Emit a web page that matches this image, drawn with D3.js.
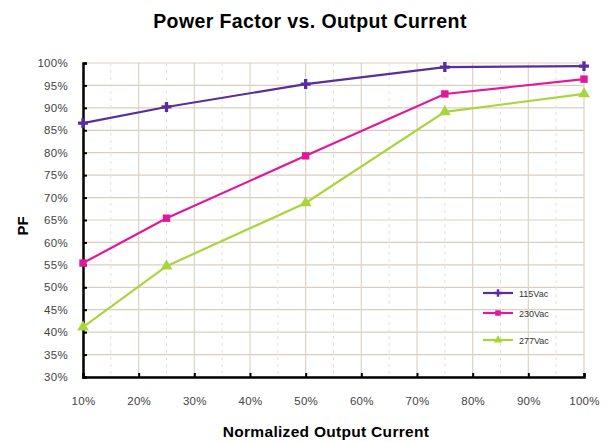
<!DOCTYPE html>
<html><head><meta charset="utf-8">
<script src="https://cdn.jsdelivr.net/npm/d3@7"></script>
<style>body{margin:0;background:#fff;}svg{display:block;}</style>
</head><body>
<svg id="c" width="608" height="442"></svg>
<script>
const loads = [10, 25, 50, 75, 100];
const pf115 = [86.6, 90.2, 95.3, 99.1, 99.3];
const pf230 = [55.4, 65.4, 79.3, 93.1, 96.4];
const pf277 = [41.1, 54.7, 68.8, 89.1, 93.1];
const seriesNames = ["115Vac", "230Vac", "277Vac"];
const xTicks = [10, 20, 30, 40, 50, 60, 70, 80, 90, 100];
const yTicks = [30, 35, 40, 45, 50, 55, 60, 65, 70, 75, 80, 85, 90, 95, 100];

const svg = d3.select("#c");
const m = {l: 83, r: 584, t: 63, b: 377};
const x = d3.scaleLinear().domain([10, 100]).range([m.l, m.r]);
const y = d3.scaleLinear().domain([30, 100]).range([m.b, m.t]);
const FF = "Arial, 'Liberation Sans', sans-serif";

// grid
const g = svg.append("g");
g.selectAll(".hg").data(yTicks).enter().append("line")
  .attr("x1", m.l).attr("x2", m.r).attr("y1", d => y(d)).attr("y2", d => y(d))
  .attr("stroke", "#d9cfc0").attr("stroke-width", 1.2);
g.selectAll(".vg").data(xTicks.slice(1)).enter().append("line")
  .attr("x1", d => x(d)).attr("x2", d => x(d)).attr("y1", m.t).attr("y2", m.b)
  .attr("stroke", "#ddd3c4").attr("stroke-width", 1.2);
g.selectAll(".vm").data(xTicks.slice(0, -1).map(d => d + 5)).enter().append("line")
  .attr("x1", d => x(d)).attr("x2", d => x(d)).attr("y1", m.t).attr("y2", m.b)
  .attr("stroke", "#e6e0d8").attr("stroke-width", 1).attr("stroke-dasharray", "3,4");

// axes
const yAxis = d3.axisLeft(y).tickValues(yTicks).tickSize(-4).tickFormat(d => d + "%").tickPadding(15);
const xAxis = d3.axisBottom(x).tickValues(xTicks).tickSize(-4).tickFormat(d => d + "%").tickPadding(20);
const ya = svg.append("g").attr("transform", `translate(${m.l},0)`).call(yAxis);
const xa = svg.append("g").attr("transform", `translate(0,${m.b})`).call(xAxis);
[ya, xa].forEach(a => {
  a.select(".domain").attr("stroke", "#000").attr("stroke-width", 2.5);
  a.selectAll(".tick line").attr("stroke", "#000").attr("stroke-width", 2);
  a.selectAll(".tick text").attr("fill", "#444").attr("font-family", FF).attr("font-size", 11.5)
    .attr("letter-spacing", 0.3);
});

const colors = ["#5a2d9c", "#e0199b", "#a9d53c"];
const data = [pf115, pf230, pf277];
const line = d3.line().x((d, i) => x(loads[i])).y(d => y(d));
data.forEach((s, k) => {
  svg.append("path").datum(s).attr("d", line).attr("fill", "none")
    .attr("stroke", colors[k]).attr("stroke-width", 2.2);
});
const sym = [d3.symbolCross, d3.symbolSquare, d3.symbolTriangle];
const sz = [55, 55, 60];
data.forEach((s, k) => {
  svg.selectAll(".m" + k).data(s).enter().append("path")
    .attr("d", d3.symbol().type(sym[k]).size(sz[k]))
    .attr("transform", (d, i) => `translate(${x(loads[i])},${y(d)})`)
    .attr("fill", colors[k]);
});

// legend
const lg = svg.append("g").attr("transform", "translate(483,293)");
seriesNames.forEach((n, k) => {
  const yy = [0, 20, 47][k];
  lg.append("line").attr("x1", 0).attr("x2", 30).attr("y1", yy).attr("y2", yy)
    .attr("stroke", colors[k]).attr("stroke-width", 2.2);
  lg.append("path").attr("d", d3.symbol().type(sym[k]).size(30))
    .attr("transform", `translate(15,${yy})`).attr("fill", colors[k]);
  lg.append("text").attr("x", 36).attr("y", yy + 3.5).text(n)
    .attr("font-family", FF).attr("font-size", 9).attr("fill", "#333");
});

// titles
svg.append("text").attr("x", 310).attr("y", 28).attr("text-anchor", "middle")
  .attr("font-family", FF).attr("font-weight", "bold").attr("font-size", 19.5)
  .attr("letter-spacing", 0.4)
  .text("Power Factor vs. Output Current");
svg.append("text").attr("x", 326).attr("y", 437).attr("text-anchor", "middle")
  .attr("font-family", FF).attr("font-weight", "bold").attr("font-size", 15.5)
  .attr("letter-spacing", 0.3)
  .text("Normalized Output Current");
svg.append("text").attr("transform", "translate(28,226) rotate(-90)").attr("text-anchor", "middle")
  .attr("font-family", FF).attr("font-weight", "bold").attr("font-size", 15)
  .text("PF");
</script>
</body></html>
